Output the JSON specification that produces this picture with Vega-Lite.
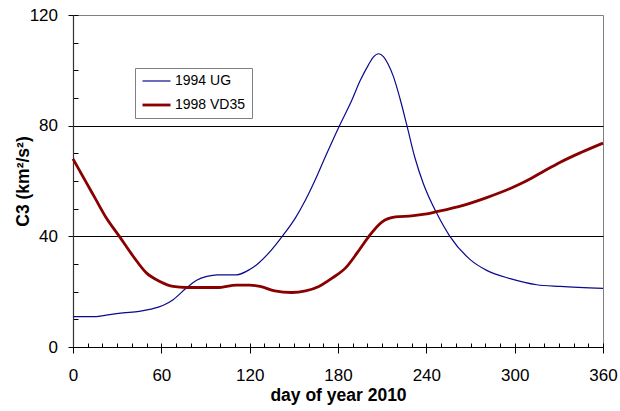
{
  "$schema": "https://vega.github.io/schema/vega-lite/v6.json",
  "width": 530,
  "height": 332,
  "autosize": {"type": "none"},
  "padding": {"left": 73, "top": 15, "right": 17, "bottom": 64},
  "background": "white",
  "config": {
    "view": {"stroke": "#808080", "strokeWidth": 1},
    "font": "Liberation Sans",
    "axis": {"labelFont": "Liberation Sans", "titleFont": "Liberation Sans", "labelColor": "black", "titleColor": "black"}
  },
  "data": {
    "values": [
      {"day": 0, "c3": 11, "series": "1994 UG"},
      {"day": 16, "c3": 11, "series": "1994 UG"},
      {"day": 25, "c3": 11.7, "series": "1994 UG"},
      {"day": 34, "c3": 12.3, "series": "1994 UG"},
      {"day": 45, "c3": 12.9, "series": "1994 UG"},
      {"day": 53, "c3": 13.7, "series": "1994 UG"},
      {"day": 61, "c3": 15, "series": "1994 UG"},
      {"day": 68, "c3": 17.1, "series": "1994 UG"},
      {"day": 77, "c3": 21.3, "series": "1994 UG"},
      {"day": 84, "c3": 24.1, "series": "1994 UG"},
      {"day": 91, "c3": 25.5, "series": "1994 UG"},
      {"day": 98, "c3": 26.1, "series": "1994 UG"},
      {"day": 111, "c3": 26.1, "series": "1994 UG"},
      {"day": 120, "c3": 28, "series": "1994 UG"},
      {"day": 126, "c3": 30.3, "series": "1994 UG"},
      {"day": 135, "c3": 35.2, "series": "1994 UG"},
      {"day": 143, "c3": 40.6, "series": "1994 UG"},
      {"day": 151, "c3": 46.6, "series": "1994 UG"},
      {"day": 158, "c3": 53.2, "series": "1994 UG"},
      {"day": 164, "c3": 59.8, "series": "1994 UG"},
      {"day": 172, "c3": 69.5, "series": "1994 UG"},
      {"day": 181, "c3": 80, "series": "1994 UG"},
      {"day": 189, "c3": 88.7, "series": "1994 UG"},
      {"day": 195, "c3": 96.2, "series": "1994 UG"},
      {"day": 200.5, "c3": 101.8, "series": "1994 UG"},
      {"day": 204, "c3": 104.8, "series": "1994 UG"},
      {"day": 207.5, "c3": 106, "series": "1994 UG"},
      {"day": 211, "c3": 104.9, "series": "1994 UG"},
      {"day": 214, "c3": 102.3, "series": "1994 UG"},
      {"day": 217.6, "c3": 97.8, "series": "1994 UG"},
      {"day": 222, "c3": 90, "series": "1994 UG"},
      {"day": 226.7, "c3": 80.3, "series": "1994 UG"},
      {"day": 232.3, "c3": 68.3, "series": "1994 UG"},
      {"day": 238, "c3": 59, "series": "1994 UG"},
      {"day": 247, "c3": 48.4, "series": "1994 UG"},
      {"day": 256, "c3": 40, "series": "1994 UG"},
      {"day": 270, "c3": 31.5, "series": "1994 UG"},
      {"day": 281, "c3": 27.7, "series": "1994 UG"},
      {"day": 297, "c3": 24.7, "series": "1994 UG"},
      {"day": 315, "c3": 22.5, "series": "1994 UG"},
      {"day": 331, "c3": 21.9, "series": "1994 UG"},
      {"day": 360, "c3": 21.2, "series": "1994 UG"},
      {"day": 0, "c3": 68, "series": "1998 VD35"},
      {"day": 8, "c3": 60.4, "series": "1998 VD35"},
      {"day": 15, "c3": 53.8, "series": "1998 VD35"},
      {"day": 22, "c3": 47.2, "series": "1998 VD35"},
      {"day": 31.5, "c3": 40, "series": "1998 VD35"},
      {"day": 41, "c3": 32.7, "series": "1998 VD35"},
      {"day": 50, "c3": 26.7, "series": "1998 VD35"},
      {"day": 59, "c3": 23.7, "series": "1998 VD35"},
      {"day": 68, "c3": 21.9, "series": "1998 VD35"},
      {"day": 77, "c3": 21.5, "series": "1998 VD35"},
      {"day": 98, "c3": 21.5, "series": "1998 VD35"},
      {"day": 111, "c3": 22.4, "series": "1998 VD35"},
      {"day": 120, "c3": 22.4, "series": "1998 VD35"},
      {"day": 127, "c3": 21.9, "series": "1998 VD35"},
      {"day": 137, "c3": 20.3, "series": "1998 VD35"},
      {"day": 148.5, "c3": 19.7, "series": "1998 VD35"},
      {"day": 158, "c3": 20.3, "series": "1998 VD35"},
      {"day": 167, "c3": 21.9, "series": "1998 VD35"},
      {"day": 176, "c3": 24.9, "series": "1998 VD35"},
      {"day": 185, "c3": 28.5, "series": "1998 VD35"},
      {"day": 193, "c3": 34, "series": "1998 VD35"},
      {"day": 201, "c3": 40, "series": "1998 VD35"},
      {"day": 210, "c3": 45.2, "series": "1998 VD35"},
      {"day": 219, "c3": 47, "series": "1998 VD35"},
      {"day": 230, "c3": 47.4, "series": "1998 VD35"},
      {"day": 239, "c3": 48, "series": "1998 VD35"},
      {"day": 247, "c3": 48.9, "series": "1998 VD35"},
      {"day": 265, "c3": 51.2, "series": "1998 VD35"},
      {"day": 281, "c3": 54, "series": "1998 VD35"},
      {"day": 297, "c3": 57.3, "series": "1998 VD35"},
      {"day": 304, "c3": 59, "series": "1998 VD35"},
      {"day": 312, "c3": 61.2, "series": "1998 VD35"},
      {"day": 320, "c3": 63.6, "series": "1998 VD35"},
      {"day": 331, "c3": 66.8, "series": "1998 VD35"},
      {"day": 345, "c3": 70.3, "series": "1998 VD35"},
      {"day": 360, "c3": 73.7, "series": "1998 VD35"}
    ]
  },
  "resolve": {"axis": {"x": "independent", "y": "independent"}},
  "layer": [
    {
      "mark": {"type": "line", "strokeOpacity": 0},
      "encoding": {
        "x": {"field": "day", "type": "quantitative", "scale": {"domain": [0, 360], "nice": false},
          "axis": {"orient": "bottom", "values": [0,10,20,30,40,50,60,70,80,90,100,110,120,130,140,150,160,170,180,190,200,210,220,230,240,250,260,270,280,290,300,310,320,330,340,350,360],
            "labels": false, "domain": false, "grid": false, "title": null, "tickSize": -4, "tickColor": "black", "tickWidth": 1}},
        "y": {"field": "c3", "type": "quantitative", "scale": {"domain": [0, 120], "nice": false},
          "axis": {"orient": "left", "values": [0,10,20,30,40,50,60,70,80,90,100,110,120],
            "labels": false, "domain": false, "title": null, "tickSize": -5, "tickColor": "black", "tickWidth": 1,
            "grid": true, "gridColor": "black", "gridWidth": 1,
            "gridOpacity": {"condition": {"test": "datum.value === 40 || datum.value === 80", "value": 1}, "value": 0}}},
        "detail": {"field": "series"}
      }
    },
    {
      "mark": {"type": "line", "interpolate": "monotone"},
      "encoding": {
        "x": {"field": "day", "type": "quantitative", "scale": {"domain": [0, 360], "nice": false},
          "axis": {"orient": "bottom", "values": [0, 60, 120, 180, 240, 300, 360], "grid": false,
            "domainColor": "black", "domainWidth": 1.2, "tickColor": "black", "tickSize": 6, "tickWidth": 1,
            "labelFontSize": 17, "labelBaseline": "alphabetic", "labelPadding": 27.5, "labelFlush": false,
            "title": "day of year 2010", "titleFontSize": 17.5, "titleFontWeight": "bold",
            "titleBaseline": "alphabetic", "titleY": 53}},
        "y": {"field": "c3", "type": "quantitative", "scale": {"domain": [0, 120], "nice": false},
          "axis": {"orient": "left", "values": [0, 40, 80, 120], "grid": false,
            "domainColor": "#333333", "domainWidth": 1.2, "tickColor": "black", "tickSize": 5, "tickWidth": 1,
            "labelFontSize": 17, "labelPadding": 10.5, "labelBaseline": "middle", "labelFlush": false,
            "title": "C3  (km²/s²)", "titleFontSize": 17.5, "titleFontWeight": "bold",
            "titleAngle": -90, "titleX": -50, "titleY": 166, "titleBaseline": "middle", "titleAlign": "center"}},
        "color": {"field": "series", "type": "nominal",
          "scale": {"domain": ["1994 UG", "1998 VD35"], "range": ["#0a0a8c", "#880000"]},
          "legend": {"orient": "none", "legendX": 62, "legendY": 53, "title": null,
            "symbolType": "stroke", "symbolSize": 784, "labelFontSize": 14, "labelFont": "Liberation Sans", "labelColor": "black",
            "padding": 6, "strokeColor": "#808080", "fillColor": "white", "clipHeight": 14, "rowPadding": 10, "labelOffset": 3}},
        "strokeWidth": {"field": "series", "type": "nominal",
          "scale": {"domain": ["1994 UG", "1998 VD35"], "range": [1.2, 2.8]}, "legend": null}
      }
    }
  ]
}
